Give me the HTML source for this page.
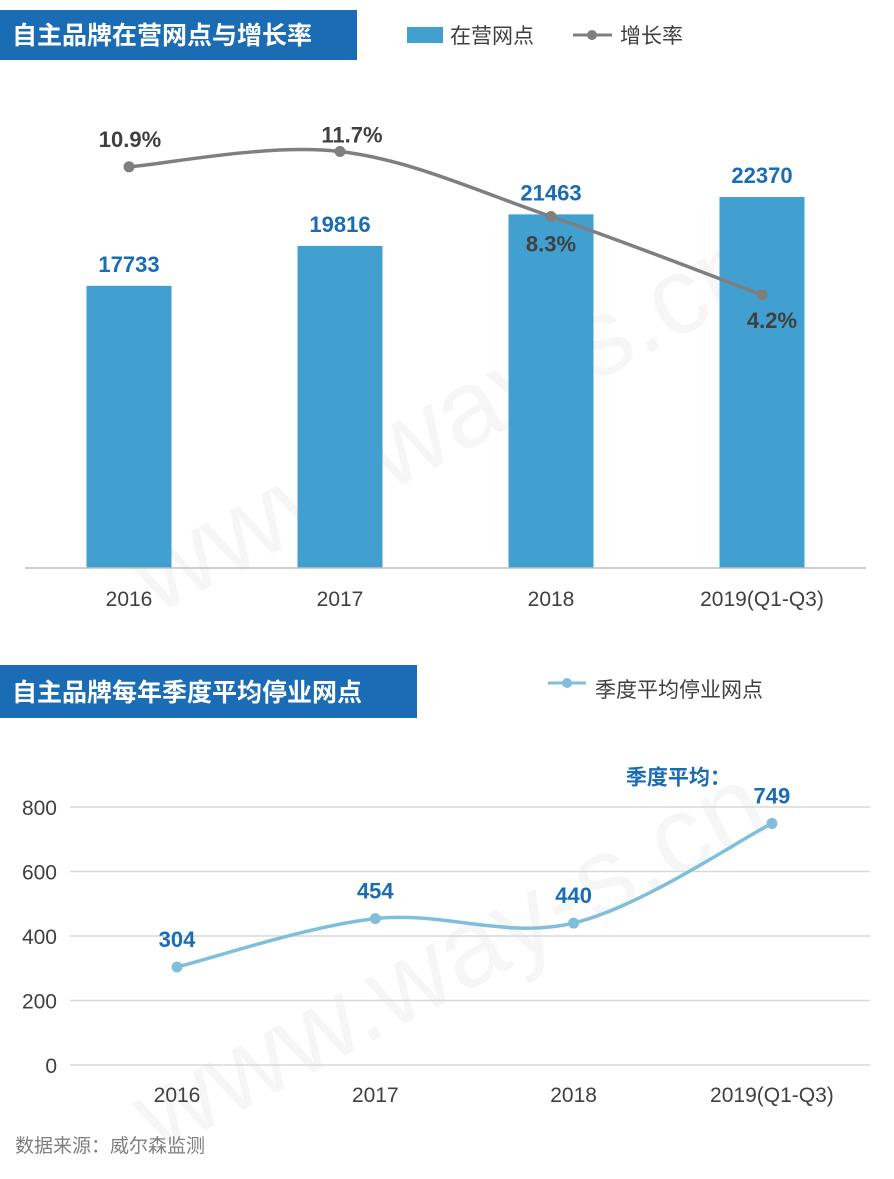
<!DOCTYPE html>
<html><head><meta charset="utf-8">
<style>
body{margin:0;background:#fff;}
svg text{font-family:"Liberation Sans","Noto Sans CJK SC",sans-serif;}
</style></head>
<body>
<svg id="c" width="894" height="1174" viewBox="0 0 894 1174" xmlns="http://www.w3.org/2000/svg">
<g>
<rect x="0" y="10" width="357" height="50" fill="#1a6cb4"/>
<text x="12" y="44" font-size="25" font-weight="bold" fill="#fff">自主品牌在营网点与增长率</text>
</g>
<g>
<rect x="407" y="27" width="36" height="16" fill="#41a0d0"/>
<text x="450" y="43" font-size="21" fill="#404040">在营网点</text>
<line x1="573" y1="35" x2="612" y2="35" stroke="#7f7f7f" stroke-width="3"/>
<circle cx="592" cy="35" r="5" fill="#7f7f7f"/>
<text x="620" y="43" font-size="21" fill="#404040">增长率</text>
</g>
<text x="60" y="470" font-size="110" fill="#000" fill-opacity="0.035" transform="rotate(-28 400 350)">www.way-s.cn</text>
<text x="60" y="1000" font-size="110" fill="#000" fill-opacity="0.035" transform="rotate(-28 420 880)">www.way-s.cn</text>
<g id="topg"></g>
<g>
<rect x="0" y="665" width="417" height="53" fill="#1a6cb4"/>
<text x="12" y="701" font-size="25" font-weight="bold" fill="#fff">自主品牌每年季度平均停业网点</text>
</g>
<g>
<line x1="548" y1="683" x2="586" y2="683" stroke="#7fbfdc" stroke-width="3"/>
<circle cx="567" cy="683" r="5" fill="#7fbfdc"/>
<text x="595" y="697" font-size="21" fill="#404040">季度平均停业网点</text>
</g>
<g id="botg"></g>
<text x="15" y="1152" font-size="19" fill="#7f7f7f">数据来源：威尔森监测</text>
</svg>
<script>
const topCats=["2016","2017","2018","2019(Q1-Q3)"];
const barVals=[17733,19816,21463,22370];
const rateVals=[10.9,11.7,8.3,4.2];
const botCats=["2016","2017","2018","2019(Q1-Q3)"];
const stopVals=[304,454,440,749];
const botTicks=[0,200,400,600,800];

const NS="http://www.w3.org/2000/svg";
function mk(parent,tag,attrs,text){const e=document.createElementNS(NS,tag);for(const k in attrs)e.setAttribute(k,attrs[k]);if(text!==undefined)e.textContent=text;parent.appendChild(e);return e;}
function smooth(pts){let d=`M${pts[0][0]},${pts[0][1]}`;for(let i=0;i<pts.length-1;i++){const p0=pts[i-1]||pts[i],p1=pts[i],p2=pts[i+1],p3=pts[i+2]||p2;const t=0.17;const c1=[p1[0]+(p2[0]-p0[0])*t,p1[1]+(p2[1]-p0[1])*t],c2=[p2[0]-(p3[0]-p1[0])*t,p2[1]-(p3[1]-p1[1])*t];d+=` C${c1[0]},${c1[1]} ${c2[0]},${c2[1]} ${p2[0]},${p2[1]}`;}return d;}

// top chart
const topG=document.getElementById('topg');
const tx=i=>129+i*211;
const by=v=>568-(v-3000)*0.019153;
const ry=v=>375-v*19.1;
topCats.forEach((c,i)=>{
  const r=mk(topG,'rect',{x:tx(i)-42.5,y:by(barVals[i]),width:85,height:568-by(barVals[i]),fill:'#41a0d0'});
  
  
  const t=mk(topG,'text',{x:tx(i),y:by(barVals[i])-14,'font-size':22,'font-weight':'bold',fill:'#1a6cb4','text-anchor':'middle'},String(barVals[i]));
  
  
  const xl=mk(topG,'text',{x:tx(i),y:606,'font-size':21,fill:'#404040','text-anchor':'middle'},c);
  
  
});
const ax=mk(topG,'line',{x1:25,y1:568,x2:866,y2:568,stroke:'#bfbfbf','stroke-width':1.5});


const rp=rateVals.map((v,i)=>[tx(i),ry(v)]);
const rl=mk(topG,'path',{d:smooth(rp),fill:'none',stroke:'#7f7f7f','stroke-width':3.5});


const rOff=[[1,-20],[12,-9],[0,35],[10,33]];
rp.forEach((p,i)=>{
  const d=mk(topG,'circle',{cx:p[0],cy:p[1],r:5.5,fill:'#7f7f7f'});
  
  
  const t=mk(topG,'text',{x:p[0]+rOff[i][0],y:p[1]+rOff[i][1],'font-size':22,'font-weight':'bold',fill:'#404040','text-anchor':'middle'},rateVals[i].toFixed(1)+'%');
  
  
});

// bottom chart
const botG=document.getElementById('botg');
const bx=i=>177+i*198.3;
const sy=v=>1065-v*0.3225;
botTicks.forEach(v=>{
  const g=mk(botG,'line',{x1:70,y1:sy(v),x2:870,y2:sy(v),stroke:'#d9d9d9','stroke-width':1.5});
  
  
  const t=mk(botG,'text',{x:57,y:sy(v)+8,'font-size':21,fill:'#404040','text-anchor':'end'},String(v));
  
  
});
const sp=stopVals.map((v,i)=>[bx(i),sy(v)]);
const sl=mk(botG,'path',{d:smooth(sp),fill:'none',stroke:'#7fbfdc','stroke-width':3.5});


sp.forEach((p,i)=>{
  const d=mk(botG,'circle',{cx:p[0],cy:p[1],r:5.5,fill:'#7fbfdc'});
  
  
  const t=mk(botG,'text',{x:p[0],y:p[1]-20,'font-size':22,'font-weight':'bold',fill:'#1a6cb4','text-anchor':'middle'},String(stopVals[i]));
  
  
  const xl=mk(botG,'text',{x:p[0],y:1102,'font-size':21,fill:'#404040','text-anchor':'middle'},botCats[i]);
  
  
});
const q=mk(botG,'text',{x:sp[3][0]-146,y:sp[3][1]-39,'font-size':21,'font-weight':'bold',fill:'#1a6cb4'},'季度平均：');


</script>
</body></html>
